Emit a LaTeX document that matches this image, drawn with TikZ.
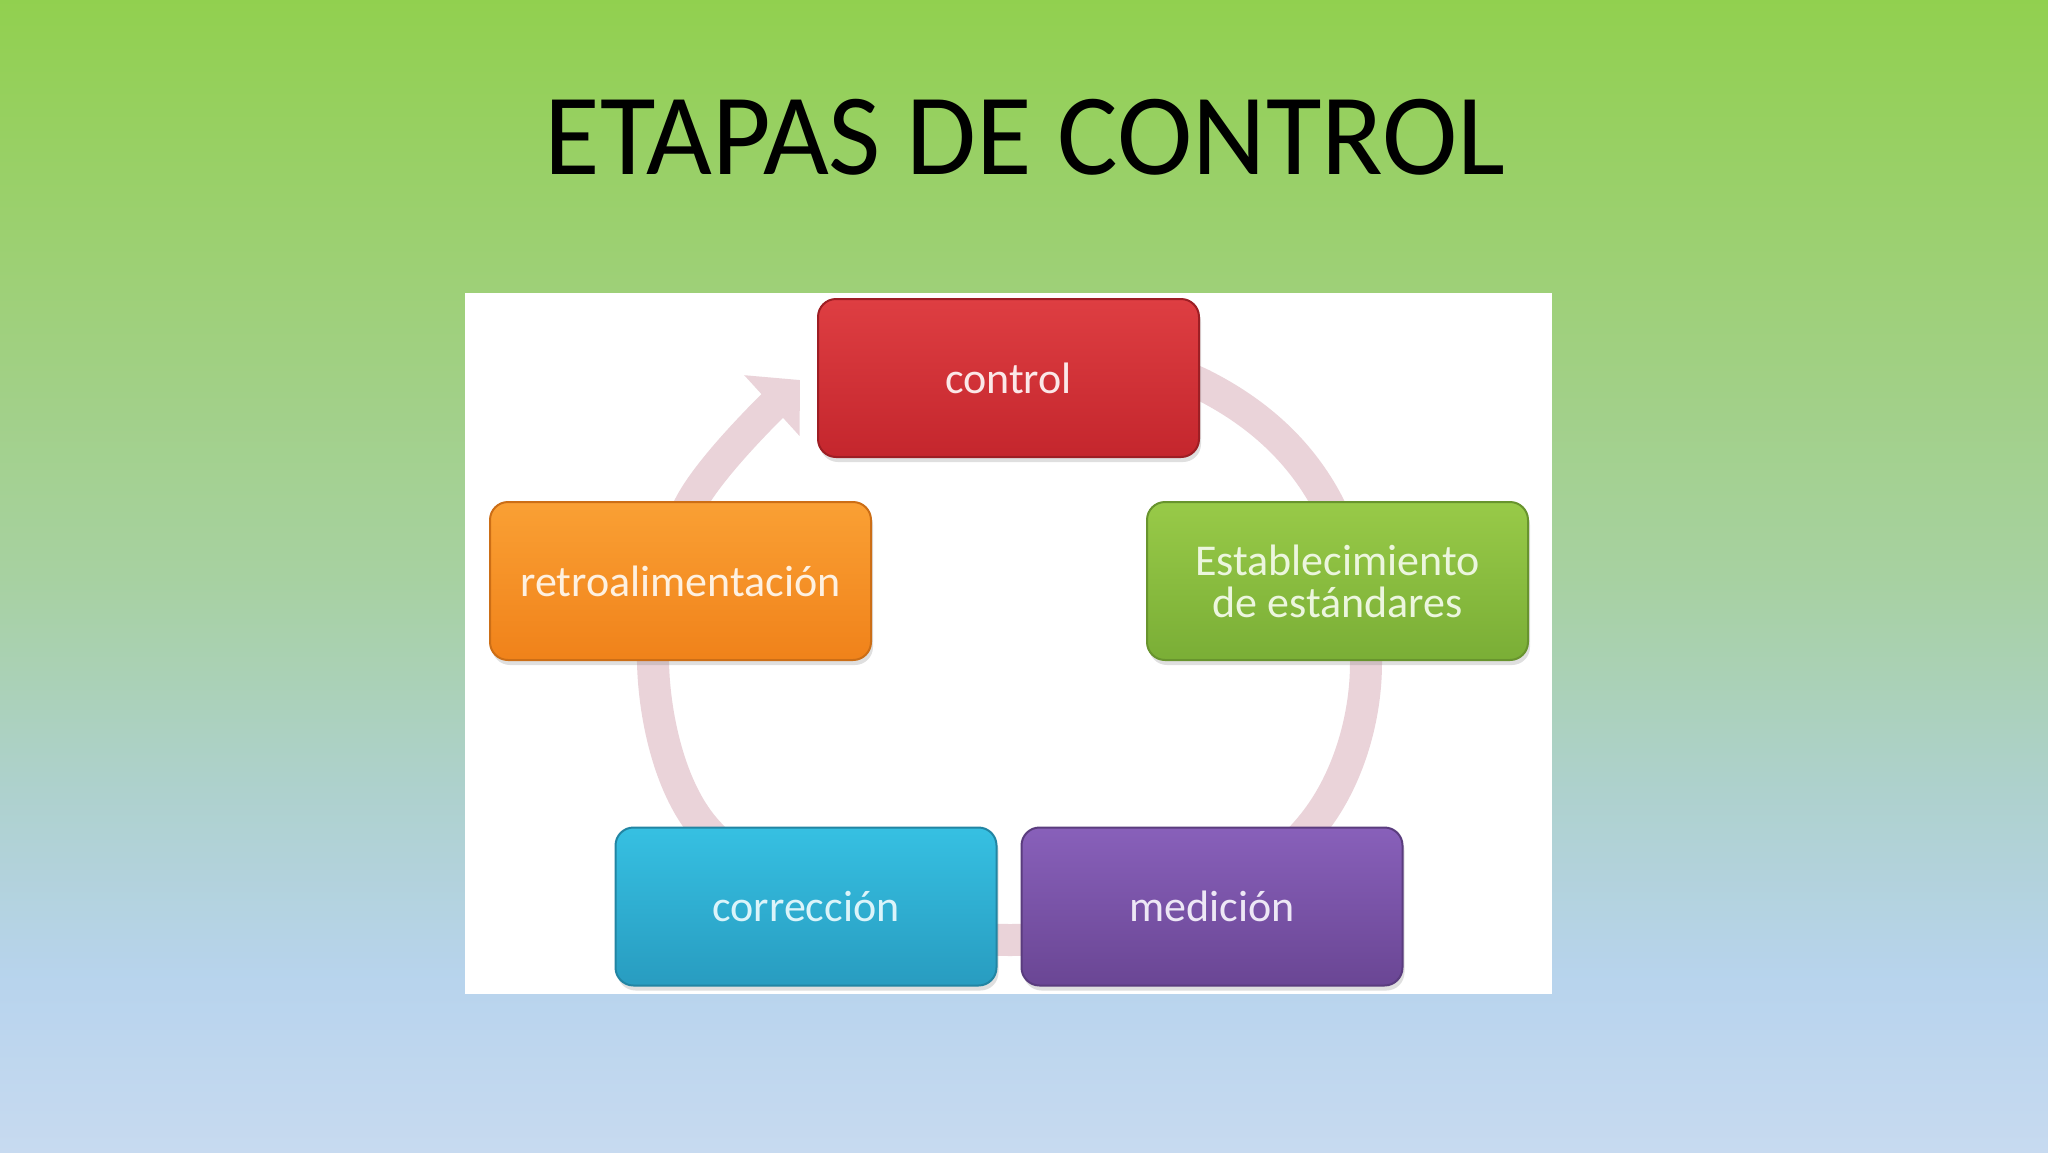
\documentclass[tikz,border=0pt]{standalone}
\usepackage{fontspec}
\setmainfont{Carlito}
\usetikzlibrary{arrows.meta,shadows}
\definecolor{ringc}{RGB}{234,211,217}
\definecolor{redT}{RGB}{222,62,66}
\definecolor{redB}{RGB}{196,38,45}
\definecolor{grnT}{RGB}{152,202,72}
\definecolor{grnB}{RGB}{122,174,54}
\definecolor{orgT}{RGB}{250,160,52}
\definecolor{orgB}{RGB}{240,130,26}
\definecolor{cyaT}{RGB}{54,192,226}
\definecolor{cyaB}{RGB}{40,156,192}
\definecolor{purT}{RGB}{136,96,186}
\definecolor{purB}{RGB}{106,70,148}
\pgfdeclareverticalshading{bgshade}{100bp}{rgb(0bp)=(0.78,0.855,0.94); rgb(25bp)=(0.78,0.855,0.94); rgb(32.5bp)=(0.72,0.83,0.93); rgb(41bp)=(0.68,0.82,0.80); rgb(50bp)=(0.655,0.82,0.63); rgb(62.5bp)=(0.62,0.815,0.47); rgb(75bp)=(0.57,0.815,0.31); rgb(100bp)=(0.57,0.815,0.31)}
\begin{document}
\begin{tikzpicture}[x=1pt,y=1pt,
  stagebox/.style={rounded corners=18, minimum width=381, minimum height=158,
    inner sep=0, align=center, font=\fontsize{44}{42}\selectfont, line width=2,
    drop shadow={shadow xshift=2pt, shadow yshift=-5pt, opacity=0.25}},
  ringline/.style={draw=ringc, line width=32, line cap=butt,
    -{Triangle[width=80pt,length=38pt]}}]
\useasboundingbox (0,0) rectangle (2048,-1152);
\shade[shading=bgshade] (0,0) rectangle (2048,-1152);
\node[anchor=base, font=\fontsize{116}{120}\selectfont, xscale=0.98] (title) at (1025,-174) {ETAPAS DE CONTROL};
\node[fill=white, minimum width=1087, minimum height=701, inner sep=0] (photo) at (1008.5,-643.5) {};
\draw[ringline] plot[smooth, tension=0.6] coordinates {(1010,-335) (1203,-385) (1322,-493) (1366,-663) (1322,-812) (1200,-905) (1010,-940) (830,-905) (698,-820) (653,-663) (690,-505) (800,-380)};
\node[stagebox, top color=redT, bottom color=redB, draw=redB!80!black, text=redT!12!white] (control) at (1008.5,-378) {control};
\node[stagebox, top color=grnT, bottom color=grnB, draw=grnB!85!black, text=grnT!18!white] (estab) at (1337.5,-581) {Establecimiento\\de estándares};
\node[stagebox, top color=purT, bottom color=purB, draw=purB!85!black, text=purT!15!white] (medicion) at (1212,-906.5) {medición};
\node[stagebox, top color=cyaT, bottom color=cyaB, draw=cyaB!85!black, text=cyaT!18!white] (correccion) at (806,-906.5) {corrección};
\node[stagebox, top color=orgT, bottom color=orgB, draw=orgB!85!black, text=orgT!15!white] (retro) at (680.5,-581) {retroalimentación};
\end{tikzpicture}
\end{document}
